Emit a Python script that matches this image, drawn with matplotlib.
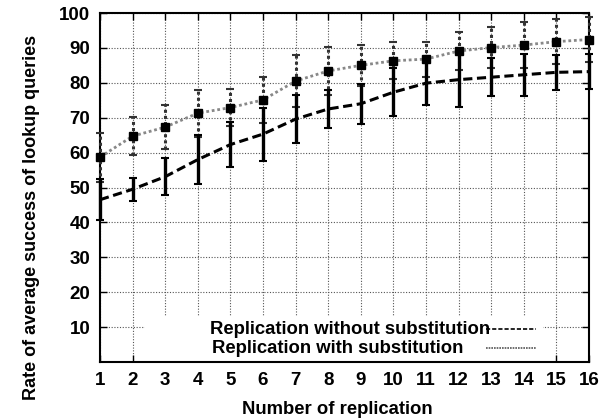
import matplotlib
matplotlib.use("Agg")
import matplotlib.pyplot as plt
from matplotlib.patches import Rectangle

plt.rcParams['font.family'] = ['Liberation Sans', 'DejaVu Sans']
plt.rcParams['font.weight'] = 'bold'

replicas = list(range(1, 17))

# Replication without substitution
without_mean = [46.5, 49.5, 53.1, 58.0, 62.3, 65.3, 69.6, 72.5, 74.0, 77.3, 79.9, 80.9, 81.6, 82.3, 83.0, 83.2]
without_err = [5.8, 3.3, 5.3, 7.1, 6.4, 7.6, 6.8, 5.5, 5.7, 6.9, 6.3, 7.8, 5.5, 6.0, 5.0, 5.0]

# Replication with substitution
with_mean = [58.7, 64.7, 67.3, 71.3, 72.9, 75.1, 80.5, 83.4, 85.0, 86.3, 86.8, 89.1, 90.1, 90.8, 91.8, 92.4]
with_err = [7.0, 5.4, 6.2, 6.7, 5.4, 6.6, 7.4, 6.8, 5.8, 5.3, 5.0, 5.5, 5.8, 6.5, 6.5, 6.5]

legend_labels = ["Replication without substitution", "Replication with substitution"]

fig = plt.figure(figsize=(6.12, 4.19), dpi=100)
ax = fig.add_axes([100 / 612, 1 - 362 / 419, 489 / 612, 349 / 419])

ax.set_xlim(1, 16)
ax.set_ylim(0, 100)
ax.set_xticks(replicas)
ax.set_yticks(range(10, 101, 10))

ax.grid(True, color='#555555', linestyle=(0, (1, 1.5)), linewidth=0.8)
ax.set_axisbelow(True)

# with substitution: grey dotted line, dotted error bars, square markers
eb2 = ax.errorbar(replicas, with_mean, yerr=with_err, fmt='none', ecolor='#333333',
                  elinewidth=2.2, capsize=3, capthick=1.5, zorder=3, clip_on=False)
for lc in eb2[2]:
    lc.set_linestyle((0, (1, 1)))
ax.plot(replicas, with_mean, color='#888888', linestyle=(0, (1, 1)), linewidth=2.0,
        zorder=4, clip_on=False)
ax.plot(replicas, with_mean, linestyle='none', marker='s', markersize=6,
        color='black', zorder=5, clip_on=False)

# without substitution: black dashed line, solid error bars
ax.errorbar(replicas, without_mean, yerr=without_err, fmt='none', ecolor='black',
            elinewidth=2.4, capsize=3, capthick=1.5, zorder=3, clip_on=False)
ax.plot(replicas, without_mean, color='black', linestyle=(0, (3, 1.5)), linewidth=2.2,
        zorder=4, clip_on=False)

# key box over the grid
ax.add_patch(Rectangle((2.38, 0.2), 12.22, 12.9, facecolor='white', edgecolor='none',
                       zorder=1.5))
ax.text(4.37, 9.3, legend_labels[0], fontsize=13.3, fontweight='bold', va='center',
        ha='left', zorder=6)
ax.text(4.43, 3.9, legend_labels[1], fontsize=13.3, fontweight='bold', va='center',
        ha='left', zorder=6)
ax.plot([12.83, 14.37], [9.5, 9.5], color='black', linestyle=(0, (2.5, 1.2)),
        linewidth=1.2, zorder=5)
ax.plot([12.83, 14.37], [4.0, 4.0], color='#555555', linestyle=(0, (1, 0.6)),
        linewidth=1.2, zorder=5)

ax.tick_params(axis='both', which='major', direction='in', length=5, width=1,
               top=True, right=True, labelsize=13.5, pad=7)
for lab in ax.get_xticklabels() + ax.get_yticklabels():
    lab.set_fontweight('bold')
for s in ax.spines.values():
    s.set_linewidth(1.5)

ax.set_xlabel("Number of replication", fontsize=13.3, fontweight='bold')
ax.set_ylabel("Rate of average success of lookup queries", fontsize=13.0,
              fontweight='bold')
ax.xaxis.set_label_coords(0.485, -0.135)
ax.yaxis.set_label_coords(-0.141, 0.414)
ax.xaxis.label.set_va('center')
ax.yaxis.label.set_va('center')

fig.savefig("out.png", dpi=100)
